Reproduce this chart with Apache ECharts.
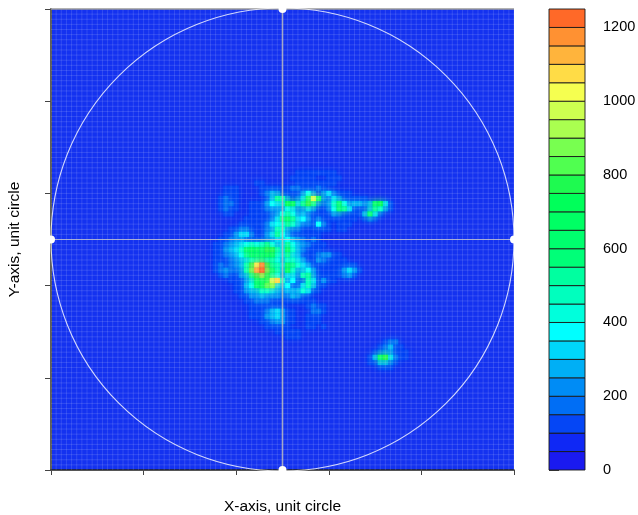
<!DOCTYPE html>
<html><head><meta charset="utf-8">
<style>html,body{margin:0;padding:0;background:#fff}#c{width:638px;height:515px}</style>
<script src="https://cdn.jsdelivr.net/npm/echarts@6/dist/echarts.min.js"></script>
</head><body><div id="c"></div>
<script>
const cellCount = 90;
const colorbarStep = 50;
const colorbarMax = 1250;
const colorbarTicks = [0,200,400,600,800,1000,1200];
const colorbarColors = [
 '#1a1af0','#0f28f5','#0546f5','#006ef5','#008cf5','#00aff5','#00d7fa','#00ffff',
 '#00ffdc','#00ffbe','#00ffa0','#00ff78','#00ff6e','#00ff64','#00ff5a','#1efa50',
 '#50ff50','#78ff50','#aaff50','#cdff50','#f5ff50','#ffdc46','#ffb43c','#ff9132','#ff6928'];
// each row: [row index from top, first column, values...]
const hotRows = [
 [32,48,100,100,100,110,110,100,100,100],
 [33,47,100,110,120,110,100,0,0,100,110,100],
 [34,40,100,100,0,0,0,0,0,0,100,130,130,120,100,100,100,110],
 [35,34,100,130,100,0,0,0,0,100,110,120,110,100,100,160,150,110,100,110,160,110],
 [36,34,110,130,110,0,0,0,0,110,150,260,210,120,100,110,130,230,350,230,110,210,300,160,100,100,110],
 [37,33,100,150,140,110,0,0,0,0,0,110,250,500,450,230,130,150,300,550,950,600,200,180,300,210,140,120,120,110,100],
 [38,33,110,180,160,110,0,0,100,110,120,200,350,300,300,700,650,300,500,750,500,200,150,200,400,550,350,240,250,250,200,280,600,700,300,110],
 [39,33,100,150,140,100,0,0,100,110,120,150,200,200,200,350,300,170,230,300,230,130,110,150,350,550,500,300,130,110,120,250,500,400,200,100],
 [40,34,100,110,0,0,0,100,110,120,130,160,200,350,450,350,200,250,180,120,110,100,120,200,180,120,100,100,120,250,550,300,120],
 [41,38,100,100,110,120,130,150,300,500,600,500,300,380,200,130,180,120,100,110,120,110,100,100,0,110,150,120],
 [42,37,110,120,110,120,130,160,300,350,350,500,400,250,180,150,140,350,150,100,0,110,130,110],
 [43,35,100,130,150,180,130,110,110,150,200,450,400,200,160,150,130,120,110,130,140,110,0,100,110],
 [44,34,110,130,200,300,300,150,110,120,200,300,500,350,200,120,130,120,110,110,100],
 [45,33,100,130,180,220,200,130,100,120,140,180,230,300,300,350,250,200,150,130,150,110],
 [46,32,100,120,150,230,280,320,350,400,350,400,500,350,280,300,500,350,280,200,150,130,110,100],
 [47,32,110,130,200,280,320,400,550,650,600,550,750,750,450,320,600,400,280,150,130,120,110],
 [48,32,100,140,180,230,280,350,500,600,550,600,650,650,400,320,500,320,280,120,120,130,150,200,200,130,100],
 [49,32,120,130,100,150,230,280,320,400,450,500,400,450,350,280,400,400,320,230,120,100,230,150,120,110,100,100],
 [50,32,130,150,130,160,200,250,450,750,1000,1150,750,500,450,320,600,500,400,320,230,120,100,120,110,110,100,110,120,110],
 [51,32,140,190,230,180,150,200,450,800,1100,1250,800,550,450,280,650,400,200,280,380,230,120,110,110,110,120,200,320,230,120],
 [52,33,120,150,130,120,200,280,500,750,850,700,450,350,230,320,320,150,450,500,230,120,100,110,110,130,160,200,130],
 [53,35,100,110,120,230,320,550,600,700,950,1050,400,230,350,120,110,450,320,130,200,120,100],
 [54,36,110,130,280,350,550,650,800,850,320,280,350,100,100,320,450,280,130,110],
 [55,36,110,130,200,280,280,400,400,320,280,230,280,280,280,400,320,120,100],
 [56,37,110,130,200,200,280,200,200,200,150,150,280,230,120,100],
 [57,38,100,120,150,180,150,120,120,110,110,120,110,100,110,110],
 [58,39,100,110,120,130,120,110,100,0,0,0,0,120,150,120,100],
 [59,39,100,110,120,150,280,320,200,120,100,0,0,0,150,150,100],
 [60,39,100,100,110,200,280,320,200,120,100,0,0,110,120,110],
 [61,41,100,120,150,200,220,120,100,0,0,100,110,100],
 [62,42,100,120,130,110,100,0,0,0,120,100,0,100],
 [63,44,100,100,110,120,100],
 [64,46,100,100,100],
 [65,65,110,180,150],
 [66,64,110,150,280,130,100],
 [67,63,130,150,230,200,120,100,100],
 [68,62,120,280,600,750,320,150,100,100],
 [69,62,100,120,280,280,150,110],
 [70,64,100,110,100]
];
const center = cellCount / 2;
const hotCells = [];
hotRows.forEach(r => { for (let i = 2; i < r.length; i++) if (r[i]) hotCells.push([r[1] + i - 2, r[0], r[i]]); });
hotCells.sort((a, b) => a[2] - b[2]);
const colorFor = v => colorbarColors[Math.min(colorbarColors.length - 1, Math.floor(v / colorbarStep))];
const lineIdx = Array.from({length: cellCount + 1}, (_, i) => [i]);
const segs = colorbarColors.map((c, i) => [i * colorbarStep, (i + 1) * colorbarStep, c]);

const chart = echarts.init(document.getElementById('c'), null, {renderer: 'canvas'});
const mainAxis = {
  type: 'value', min: 0, max: cellCount, interval: 18, axisLabel: {show: false}, splitLine: {show: false}
};
chart.setOption({
  animation: false,
  textStyle: {fontFamily: 'Liberation Sans'},
  grid: [
    {left: 51, top: 9, width: 463, height: 461, show: true, backgroundColor: '#1432f0', borderWidth: 0, outerBoundsMode: 'none', containLabel: false},
    {left: 549, top: 9, width: 36, height: 461, outerBoundsMode: 'none', containLabel: false}
  ],
  xAxis: [
    Object.assign({}, mainAxis, {gridIndex: 0, name: 'X-axis, unit circle', nameLocation: 'middle', nameGap: 29,
      nameTextStyle: {fontSize: 15.5, color: '#000'},
      axisLine: {show: true, onZero: false, lineStyle: {color: '#111', width: 1.5}},
      axisTick: {show: true, length: 5, lineStyle: {color: '#444', width: 1}}}),
    {type: 'value', gridIndex: 1, min: 0, max: 1, show: false}
  ],
  yAxis: [
    Object.assign({}, mainAxis, {gridIndex: 0, inverse: true, name: 'Y-axis, unit circle', nameLocation: 'middle', nameGap: 28,
      nameTextStyle: {fontSize: 15.5, color: '#000'},
      axisLine: {show: true, onZero: false, lineStyle: {color: '#555', width: 2}},
      axisTick: {show: true, length: 6, lineStyle: {color: '#444', width: 1}}}),
    {type: 'value', gridIndex: 1, min: 0, max: colorbarMax, interval: 200, position: 'right',
      axisLine: {show: false}, splitLine: {show: false},
      axisTick: {show: true, length: 10, customValues: colorbarTicks, lineStyle: {color: '#444', width: 1}},
      axisLabel: {fontSize: 14.5, color: '#000', margin: 18, customValues: colorbarTicks, formatter: v => String(v)}}
  ],
  series: [
    {type: 'custom', xAxisIndex: 0, yAxisIndex: 0, data: hotCells, clip: true, silent: true, z: 2,
      renderItem: (p, api) => {
        const a = api.coord([api.value(0) - 0.5, api.value(1) - 0.5]);
        const b = api.coord([api.value(0) + 0.5, api.value(1) + 0.5]);
        const col = colorFor(api.value(2));
        return {type: 'rect', shape: {x: a[0], y: a[1], width: b[0] - a[0], height: b[1] - a[1]},
          style: {fill: col, shadowBlur: 7, shadowColor: col}};
      }},
    {type: 'custom', xAxisIndex: 0, yAxisIndex: 0, data: lineIdx, silent: true, z: 3,
      renderItem: (p, api) => {
        const i = api.value(0);
        const a = api.coord([i, 0]), b = api.coord([i, cellCount]);
        const c = api.coord([0, i]), d = api.coord([cellCount, i]);
        const st = {stroke: 'rgba(255,255,255,0.13)', lineWidth: 1, fill: null};
        return {type: 'group', children: [
          {type: 'line', shape: {x1: a[0], y1: a[1], x2: b[0], y2: b[1]}, style: st},
          {type: 'line', shape: {x1: c[0], y1: c[1], x2: d[0], y2: d[1]}, style: st}]};
      }},
    {type: 'line', xAxisIndex: 0, yAxisIndex: 0, data: [[0, 0], [cellCount, 0]], showSymbol: false, z: 4, silent: true, clip: false,
      lineStyle: {color: '#999', width: 1.5}},
    {type: 'line', xAxisIndex: 0, yAxisIndex: 0, data: [[0, center], [cellCount, center]], showSymbol: false, z: 4, silent: true,
      lineStyle: {color: 'rgba(205,205,205,0.75)', width: 1}},
    {type: 'line', xAxisIndex: 0, yAxisIndex: 0, data: [[center, 0], [center, cellCount]], showSymbol: false, z: 4, silent: true,
      lineStyle: {color: 'rgba(190,190,190,0.8)', width: 1.6}},
    {type: 'custom', xAxisIndex: 0, yAxisIndex: 0, data: [[center, center, center]], silent: true, z: 5, clip: false,
      renderItem: (p, api) => {
        const c = api.coord([api.value(0), api.value(1)]);
        const e = api.coord([api.value(0) + api.value(2), api.value(1)]);
        return {type: 'circle', shape: {cx: c[0], cy: c[1], r: e[0] - c[0]},
          style: {fill: null, stroke: 'rgba(255,255,255,0.8)', lineWidth: 1.1}};
      }},
    {type: 'scatter', xAxisIndex: 0, yAxisIndex: 0, z: 20, silent: true, clip: false, symbolSize: 8,
      itemStyle: {color: '#fff', opacity: 1},
      data: [[0, center], [cellCount, center], [center, 0], [center, cellCount]]},
    {type: 'custom', xAxisIndex: 1, yAxisIndex: 1, data: segs, silent: true, z: 2, encode: {y: [0, 1]},
      renderItem: (p, api) => {
        const a = api.coord([0, api.value(1)]);
        const b = api.coord([1, api.value(0)]);
        return {type: 'rect', shape: {x: a[0], y: a[1], width: b[0] - a[0], height: b[1] - a[1]},
          style: {fill: segs[p.dataIndex][2], stroke: '#1a1a1a', lineWidth: 0.9}};
      }}
  ]
});
</script></body></html>
